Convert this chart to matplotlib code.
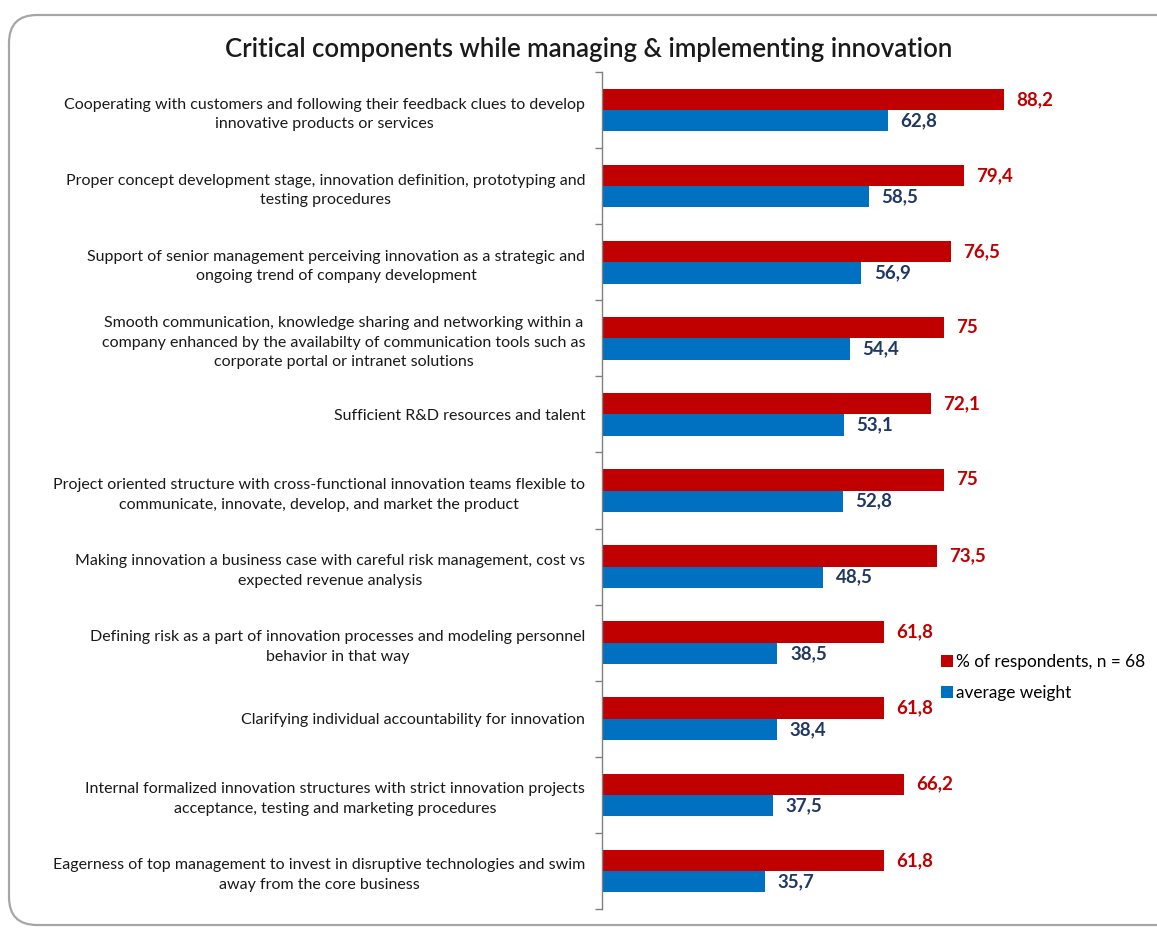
import matplotlib
matplotlib.use("Agg")
import matplotlib.pyplot as plt
from matplotlib.patches import FancyBboxPatch, Patch
from matplotlib.transforms import IdentityTransform
import numpy as np

plt.rcParams['font.family'] = ['Lato', 'DejaVu Sans']

categories = [
    "Cooperating with customers and following their feedback clues to develop\ninnovative products or services",
    "Proper concept development stage, innovation definition, prototyping and\ntesting procedures",
    "Support of senior management perceiving innovation as a strategic and\nongoing trend of company development",
    "Smooth communication, knowledge sharing and networking within a\ncompany enhanced by the availabilty of communication tools such as\ncorporate portal or intranet solutions",
    "Sufficient R&D resources and talent",
    "Project oriented structure with cross-functional innovation teams flexible to\ncommunicate, innovate, develop, and market the product",
    "Making innovation a business case with careful risk management, cost vs\nexpected revenue analysis",
    "Defining risk as a part of innovation processes and modeling personnel\nbehavior in that way",
    "Clarifying individual accountability for innovation",
    "Internal formalized innovation structures with strict innovation projects\nacceptance, testing and marketing procedures",
    "Eagerness of top management to invest in disruptive technologies and swim\naway from the core business",
]
respondents_pct = [88.2, 79.4, 76.5, 75, 72.1, 75, 73.5, 61.8, 61.8, 66.2, 61.8]
average_weight = [62.8, 58.5, 56.9, 54.4, 53.1, 52.8, 48.5, 38.5, 38.4, 37.5, 35.7]
series_names = ["% of respondents, n = 68", "average weight"]

RED = "#C00000"
BLUE = "#0070C0"
RED_TXT = "#C00000"
BLUE_TXT = "#1F3864"

W, H = 1157, 931
fig = plt.figure(figsize=(W / 100, H / 100), dpi=100)

# rounded frame around the chart area (runs past the right edge)
frame = FancyBboxPatch((9, 6), 1300, 910, boxstyle="round,pad=0,rounding_size=28",
                       transform=IdentityTransform(), facecolor="none",
                       edgecolor="#A6A6A6", linewidth=1.6)
fig.patches.append(frame)

ax_left = 602 / W
ax_bottom = 1 - 909 / H
ax_top = 1 - 72 / H
ax = fig.add_axes([ax_left, ax_bottom, 1 - ax_left, ax_top - ax_bottom])

n = len(categories)
y = np.arange(n)
bh = 0.28
ax.barh(y - bh / 2, respondents_pct, height=bh, color=RED, label=series_names[0])
ax.barh(y + bh / 2, average_weight, height=bh, color=BLUE, label=series_names[1])

def fmt(v):
    s = f"{v:g}"
    return s.replace(".", ",")

for yi, v in zip(y, respondents_pct):
    ax.annotate(fmt(v), (v, yi - bh / 2), xytext=(9, 0), textcoords="offset points",
                va="center", ha="left", color=RED_TXT, fontsize=13.5, fontweight="bold")
for yi, v in zip(y, average_weight):
    ax.annotate(fmt(v), (v, yi + bh / 2), xytext=(9, 0), textcoords="offset points",
                va="center", ha="left", color=BLUE_TXT, fontsize=13.5, fontweight="bold")

ax.set_xlim(0, 555 / 4.558)
ax.set_ylim(n - 0.5, -0.5)

for s in ["top", "right", "bottom"]:
    ax.spines[s].set_visible(False)
ax.spines["left"].set_color("#808080")
ax.spines["left"].set_linewidth(1.0)

ax.set_xticks([])
ax.set_yticks(y)
ax.set_yticklabels(categories, fontsize=11.5, color="#1a1a1a", multialignment="center",
                   linespacing=1.5)
ax.tick_params(axis="y", which="major", length=0, pad=12)
ax.set_yticks(np.arange(n + 1) - 0.5, minor=True)
ax.tick_params(axis="y", which="minor", length=5, color="#808080", width=1.0)

fig.text(589 / W, 1 - 50 / H, "Critical components while managing & implementing innovation",
         ha="center", va="center", fontsize=18.5, fontweight="semibold", color="#1a1a1a")

handles = [Patch(facecolor=RED), Patch(facecolor=BLUE)]
fig.legend(handles, series_names, loc="upper left", bbox_to_anchor=(941 / W, 1 - 654 / H),
           frameon=False, fontsize=12.4, handlelength=0.7, handleheight=0.7,
           handletextpad=0.2, labelspacing=0.85, borderaxespad=0, borderpad=0)

fig.savefig("out.png", dpi=100)
